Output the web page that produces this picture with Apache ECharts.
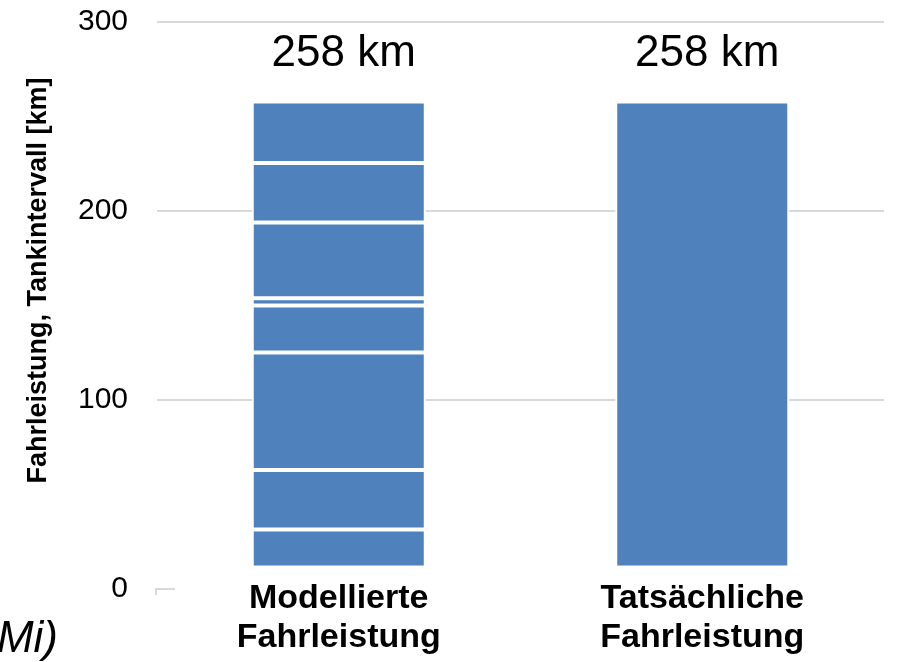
<!DOCTYPE html>
<html>
<head>
<meta charset="utf-8">
<script src="https://cdn.jsdelivr.net/npm/echarts@6/dist/echarts.min.js"></script>
<style>
html,body{margin:0;padding:0;background:#fff;}
#chart{width:898px;height:662px;}
</style>
</head>
<body>
<div id="chart"></div>
<script>
// ---- data ----
var categories = ['Modellierte\nFahrleistung', 'Tatsächliche\nFahrleistung'];
var modelSegments = [21, 33, 65, 26, 4, 42, 33, 34];   // stacked parts of the modelled bar (km)
var actualValue = 258;                                  // actual mileage (km)
var yTicks = [0, 100, 200, 300];
var unit = ' km';
var yAxisTitle = 'Fahrleistung, Tankintervall [km]';
var cornerText = 'Mi)';

var FONT = '"Liberation Sans", Arial, sans-serif';
var BAR = '#4F81BD';

var modelTotal = modelSegments.reduce(function (a, b) { return a + b; }, 0);

function labelCfg(fmt) {
  return {
    show: true, position: 'top', distance: 26, offset: [5, 0],
    fontSize: 44, fontFamily: FONT, color: '#000',
    formatter: fmt
  };
}

var series = modelSegments.map(function (v, i) {
  var last = i === modelSegments.length - 1;
  return {
    type: 'bar',
    xAxisIndex: 1, yAxisIndex: 1,
    stack: 'total',
    barWidth: 174,
    data: [v, '-'],
    itemStyle: { color: BAR, borderColor: '#ffffff', borderWidth: 2 },
    label: last ? labelCfg(function () { return modelTotal + unit; }) : { show: false },
    emphasis: { disabled: true },
    silent: true
  };
});
series.push({
  type: 'bar',
  xAxisIndex: 1, yAxisIndex: 1,
  stack: 'total',
  barWidth: 174,
  data: ['-', actualValue],
  itemStyle: { color: BAR, borderColor: '#ffffff', borderWidth: 2 },
  label: labelCfg(function (p) { return p.value + unit; }),
  emphasis: { disabled: true },
  silent: true
});

var chart = echarts.init(document.getElementById('chart'), null, { renderer: 'canvas' });
chart.setOption({
  animation: false,
  backgroundColor: '#ffffff',
  grid: [
    { left: 157, right: 14, top: 22, bottom: 73, containLabel: false },
    { left: 157, right: 14, top: 25.6, bottom: 94.5, containLabel: false }
  ],
  xAxis: [
    {
      gridIndex: 0, type: 'category', data: categories,
      axisLine: { show: false }, axisTick: { show: false }, axisLabel: { show: false }
    },
    {
      gridIndex: 1, type: 'category', data: categories,
      axisLine: { show: false }, axisTick: { show: false },
      axisLabel: {
        interval: 0, margin: 12, fontSize: 34, lineHeight: 38.5,
        fontWeight: 'bold', fontFamily: FONT, color: '#000'
      }
    }
  ],
  yAxis: [
    {
      gridIndex: 0, type: 'value',
      min: yTicks[0], max: yTicks[yTicks.length - 1], interval: 100,
      name: yAxisTitle,
      nameLocation: 'middle',
      nameGap: 105,
      nameTextStyle: { fontSize: 27, fontWeight: 'bold', fontFamily: FONT, color: '#000', padding: [0, 0, 0, 50] },
      axisLine: { show: false },
      axisTick: { show: false },
      axisLabel: { fontSize: 30, fontFamily: FONT, color: '#000', margin: 29 },
      splitLine: { show: true, lineStyle: { color: ['rgba(0,0,0,0)', '#d9d9d9', '#d9d9d9', '#d9d9d9'], width: 2 } }
    },
    {
      gridIndex: 1, type: 'value',
      min: yTicks[0], max: yTicks[yTicks.length - 1],
      show: false
    }
  ],
  series: series,
  graphic: [
    { type: 'line', shape: { x1: 155, y1: 589, x2: 175, y2: 589 }, style: { stroke: '#d9d9d9', lineWidth: 2 }, silent: true },
    { type: 'line', shape: { x1: 156, y1: 589, x2: 156, y2: 595 }, style: { stroke: '#d9d9d9', lineWidth: 2 }, silent: true },
    { type: 'text', right: 898 - 58, top: 618, style: { text: cornerText, font: 'italic 44px ' + FONT, fill: '#000' }, silent: true }
  ]
});
</script>
</body>
</html>
